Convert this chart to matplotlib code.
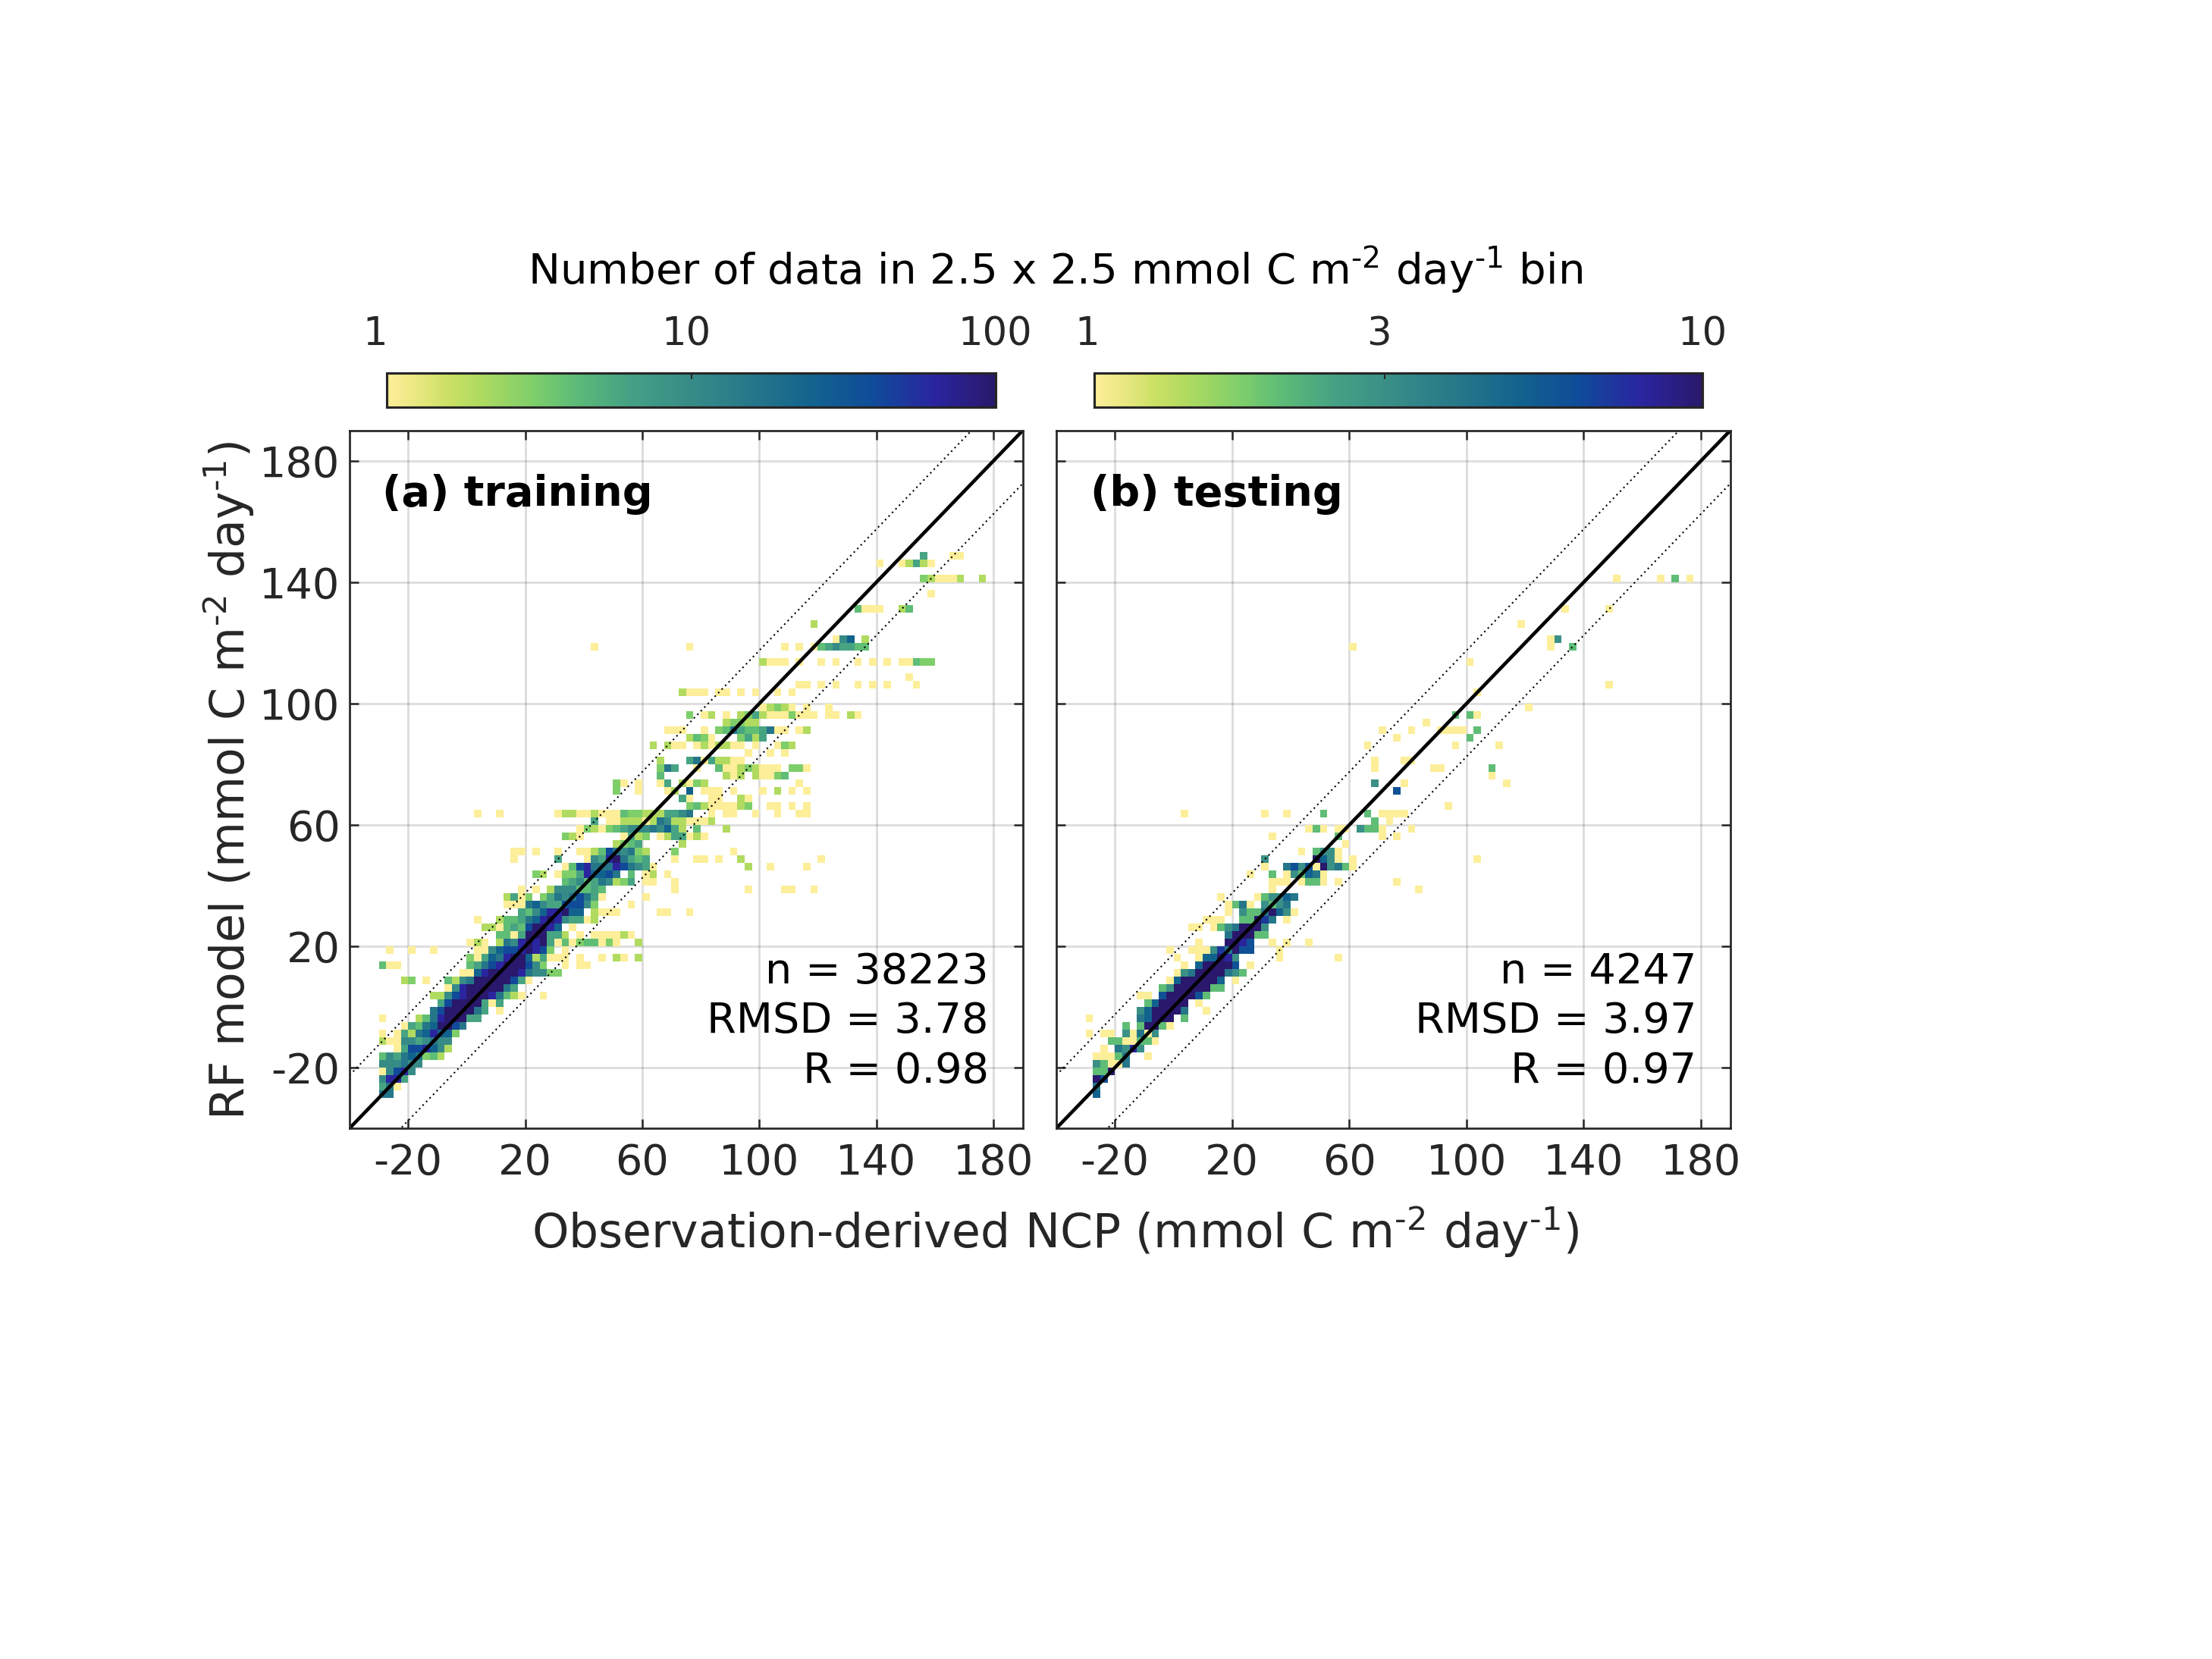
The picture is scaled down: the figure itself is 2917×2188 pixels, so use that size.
import numpy as np
import matplotlib
matplotlib.use("Agg")
import matplotlib.pyplot as plt
from matplotlib.colors import LinearSegmentedColormap, LogNorm
from matplotlib.cm import ScalarMappable
from matplotlib.transforms import ScaledTranslation

W, H = 2917, 2188
DPI = 300
INK = "#262626"

# Bin size and origin of the 2-D histograms (mmol C m-2 day-1)
BIN = 2.5
X_ORIGIN = -30.0
Y_ORIGIN = -40.0
N_COLS = 88
N_ROWS = 88

# Sparse histogram rows: row index -> "first_col:codes ..."
train_counts = {"1": 1, "2": 2, "3": 3, "4": 4, "5": 6, "6": 10, "7": 16,
                "8": 25, "9": 40, "a": 63, "b": 100}
test_counts = {"1": 1, "2": 2, "3": 3, "4": 4, "5": 5, "6": 6, "7": 7,
               "8": 8, "a": 10}

train_rows = {
    4: "0:77", 5: "0:571", 6: "0:6aa5", 7: "0:169a6", 8: "0:666766",
    9: "0:465787342", 10: "2:1599a862", 11: "0:2116656766",
    12: "0:1 2:15278a883", 13: "3:15478bb97", 14: "0:1 5:247abbb55",
    15: "7:79bbbb75 16:1", 16: "8:59bbbb515", 17: "7:2269abbba7421 22:1",
    18: "9:16abbbbb75", 19: "3:23 6:1 9:4267bbbbb951",
    20: "11:118abbbba76633", 21: "0:411 12:4579abbb963 25:1 27:11",
    22: "12:31587abb825111 27:1 30:1 32:21 35:2",
    23: "1:1 4:1 7:1 13:116899aba93 25:1",
    24: "12:121 16:276abab5141344131 35:2",
    25: "16:4415bbb552 27:1 29:111121",
    26: "14:2214549bba8 26:1",
    27: "13:1 16:244578aba65512",
    28: "19:5468aab88 29:2111 38:11 42:1",
    29: "17:1117865599963 34:1",
    30: "17:2513 22:357679751 36:1",
    31: "19:1 21:1 23:26664454 40:1 50:1 55:11 59:1",
    32: "25:4564576235 36:11 40:1",
    33: "21:32 24:1335a8897 34:4 36:12 39:1",
    34: "25:149a777a97651 50:2 53:1 58:1",
    35: "18:1 24:5 28:165ab7545 40:1 43:11 46:1 49:2 60:1",
    36: "18:11 21:1 24:1 27:1124976732 40:3 48:1",
    37: "32:2345 41:2",
    38: "25:321 33:1523 38:1255121",
    39: "27:132134566676852 43:4 47:2",
    40: "29:5 31:112221276221112",
    41: "13:1 16:1 24:1221121114332225567 45:1 47:11 51:1 54:1 57:11",
    42: "42:342111123 53:11 56:1 58:1",
    43: "41:51 45:11 49:21",
    44: "32:3 35:1 39:12 42:8 44:111 48:1 52:1 54:2 56:1 58:1",
    45: "32:31 35:1 38:15 41:2132 57:1",
    46: "38:4 47:212 51:21134",
    47: "38:375 43:1 46:411232111 56:331",
    48: "38:2 42:57152211",
    49: "50:1 53:1 55:1",
    50: "37:2 39:211 43:1212211 51:1 54:132",
    51: "42:2431 49:3525",
    52: "39:111 44:1 46:3475445711 57:12",
    53: "47:23322",
    54: "42:3 44:12 47:1 49:23521113111 61:11 64:21",
    55: "52:12321 58:1 61:1",
    57: "41:2111 46:11 49:1 51:1 54:1 56:1",
    58: "57:11 60:1 62:1 65:1 67:1 69:1 73:1",
    59: "72:1",
    61: "52:2111 57:1 60:1 62:1 65:1 67:1 69:1 71:11433",
    63: "29:1 42:1 55:1 57:1 59:14565544",
    64: "62:168 66:2",
    66: "59:2",
    68: "65:4111 71:24",
    70: "75:1",
    72: "74:321112 82:2",
    74: "68:1 71:12521",
    75: "74:5 78:11",
}

test_rows = {
    4: "1:5", 5: "1:4", 6: "1:a6", 7: "1:22a", 8: "1:32114", 9: "1:11124 8:1",
    10: "2:1 4:4383", 11: "3:2211221", 12: "0:1 2:11 5:31413",
    13: "5:2 7:2aa21", 14: "0:1 7:45aaa 13:2", 15: "7:35aaaa4 16:1",
    16: "8:25aaaa 15:1", 17: "7:11 10:6aaaa62", 18: "10:23aaaaa22",
    19: "11:15aaaaa5 20:1", 20: "12:134aaaa432", 21: "13:1 15:5aaaa6 22:1",
    22: "12:1 15:155a83 26:1 34:1", 23: "11:1 14:111374a66 26:1",
    24: "15:1 19:aa86 25:1 27:1 30:1", 25: "19:4aaa22",
    26: "14:11 17:1234aaa3", 27: "16:111 21:22a74 27:1",
    28: "19:1 21:3224a531", 29: "19:1241 24:3234", 30: "18:1 23:123354",
    31: "25:1 45:1", 32: "25:111 29:1221 34:1 42:1",
    33: "22:1 25:2 27:132541", 34: "24:1 27:46361a3421",
    35: "24:3 31:a531 36:1 53:1", 36: "29:1 31:2331", 37: "35:1",
    38: "25:1 34:2 40:1 42:1", 39: "30:121 34:11 37:3221 44:1",
    40: "39:2 41:1", 41: "13:1 24:1 27:1 32:2 38:2 40:1111", 42: "49:1",
    44: "42:6", 45: "39:3 43:1 57:1", 46: "55:1", 47: "39:1 47:11 55:2",
    48: "39:1 43:11", 50: "38:1 50:1 56:1", 51: "42:1 52:2",
    52: "40:1 44:1 48:1111 53:2", 53: "46:1", 54: "50:2 52:21", 55: "60:1",
    57: "53:1", 58: "71:1", 61: "52:1", 63: "36:1 63:1 66:2", 64: "63:13",
    66: "59:1", 68: "65:1 71:1", 72: "72:1 78:1 80:2 82:1",
}

tick_values = [-20, 20, 60, 100, 140, 180]
tick_labels = ["-20", "20", "60", "100", "140", "180"]
axis_min, axis_max = -40, 190
band_offset = 17.5
cbar_ticks_a = [1, 10, 100]
cbar_labels_a = ["1", "10", "100"]
cbar_ticks_b = [1, 3, 10]
cbar_labels_b = ["1", "3", "10"]
stats_a = ["n = 38223", "RMSD = 3.78", "R = 0.98"]
stats_b = ["n = 4247", "RMSD = 3.97", "R = 0.97"]

# Reversed haline-like colormap
cmap_stops = [
    (0.00, (253, 238, 153)), (0.05, (232, 231, 128)), (0.10, (202, 224, 100)),
    (0.15, (176, 219, 96)), (0.24, (126, 206, 106)), (0.30, (96, 190, 118)),
    (0.40, (68, 160, 132)), (0.50, (55, 139, 135)), (0.60, (38, 119, 137)),
    (0.70, (18, 98, 142)), (0.80, (15, 75, 153)), (0.90, (42, 37, 160)),
    (1.00, (41, 24, 107)),
]
cmap = LinearSegmentedColormap.from_list(
    "haline_like", [(t, tuple(c / 255 for c in rgb)) for t, rgb in cmap_stops], N=256)


def build_grid(rows, counts):
    grid = np.full((N_ROWS, N_COLS), np.nan)
    for k, spec in rows.items():
        for part in spec.split():
            start, codes = part.split(":")
            for offset, code in enumerate(codes):
                grid[k, int(start) + offset] = counts[code]
    return grid


def add_axes_px(fig, x0, y0, x1, y1):
    return fig.add_axes([x0 / W, 1 - y1 / H, (x1 - x0) / W, (y1 - y0) / H])


plt.rcParams["font.family"] = "DejaVu Sans"
plt.rcParams["mathtext.default"] = "regular"
fig = plt.figure(figsize=(W / DPI, H / DPI), dpi=DPI)

x_edges = X_ORIGIN + BIN * np.arange(N_COLS + 1)
y_edges = Y_ORIGIN + BIN * np.arange(N_ROWS + 1)


def panel(box, rows, counts, vmax, title, stats, title_x, stats_x, show_y):
    ax = add_axes_px(fig, *box)
    norm = LogNorm(vmin=1, vmax=vmax)
    ax.pcolormesh(x_edges, y_edges, build_grid(rows, counts), cmap=cmap, norm=norm,
                  shading="flat", antialiased=False, linewidth=0, zorder=2)
    ref = np.array([axis_min, axis_max])
    ax.plot(ref, ref, color="black", lw=1.1, zorder=4)
    ax.plot(ref, ref + band_offset, color="black", lw=0.5, ls=(0, (1, 2.17)), zorder=3)
    ax.plot(ref, ref - band_offset, color="black", lw=0.5, ls=(0, (1, 2.17)), zorder=3)
    ax.set_xlim(axis_min, axis_max)
    ax.set_ylim(axis_min, axis_max)
    ax.set_xticks(tick_values)
    ax.set_xticklabels(tick_labels)
    ax.set_yticks(tick_values)
    ax.set_yticklabels(tick_labels if show_y else [])
    ax.set_axisbelow(True)
    ax.grid(True, color="black", alpha=0.14, lw=0.65)
    ax.tick_params(axis="both", direction="in", length=2.8, width=0.6, color=INK,
                   labelcolor=INK, labelsize=13.4, top=True, right=True)
    ax.tick_params(axis="x", pad=4.6)
    ax.tick_params(axis="y", pad=3.0)
    for sp in ax.spines.values():
        sp.set_linewidth(0.65)
        sp.set_color(INK)
        sp.set_zorder(6)
    fig.text(title_x / W, 1 - 667 / H, title, fontsize=13.4, fontweight="bold",
             color="black", ha="left", va="baseline", zorder=7)
    for line, base in zip(stats, [1297, 1362, 1428]):
        fig.text(stats_x / W, 1 - base / H, line, fontsize=13.4, color="black",
                 ha="right", va="baseline", zorder=7)
    return ax, norm


def colorbar(box, norm, ticks, labels, shifts):
    cax = add_axes_px(fig, *box)
    cb = fig.colorbar(ScalarMappable(norm=norm, cmap=cmap), cax=cax, orientation="horizontal")
    cb.minorticks_off()
    cb.set_ticks(ticks)
    cb.set_ticklabels(labels)
    cax.xaxis.set_ticks_position("top")
    cax.xaxis.set_label_position("top")
    cax.tick_params(axis="x", which="both", direction="in", length=2.0, width=0.5,
                    color=INK, labelcolor=INK, labelsize=12.3, pad=6.2,
                    top=True, bottom=False, labeltop=True, labelbottom=False)
    cb.minorticks_off()
    cb.outline.set_linewidth(0.75)
    cb.outline.set_edgecolor(INK)
    for lab, dx in zip(cax.get_xticklabels(), shifts):
        lab.set_transform(lab.get_transform() + ScaledTranslation(dx / DPI, 0, fig.dpi_scale_trans))
    return cb


_, norm_a = panel((461, 568, 1348.5, 1488), train_rows, train_counts, 100,
                  "(a) training", stats_a, 504.5, 1304, True)
_, norm_b = panel((1393, 568, 2281.5, 1488), test_rows, test_counts, 10,
                  "(b) testing", stats_b, 1437.5, 2237, False)

colorbar((510, 492, 1313, 536.5), norm_a, cbar_ticks_a, cbar_labels_a, [-15, -7, -1])
colorbar((1443, 492, 2245, 536.5), norm_b, cbar_ticks_b, cbar_labels_b, [-9, -7, 0])

unit = r"mmol C m$^{\text{-}2}$ day$^{\text{-}1}$"
fig.text(1391.5 / W, 1 - 375 / H, "Number of data in 2.5 x 2.5 " + unit + " bin",
         fontsize=13.5, color="black", ha="center", va="baseline")
fig.text(1392 / W, 1 - 1646 / H, "Observation-derived NCP (" + unit + ")",
         fontsize=14.8, color=INK, ha="center", va="baseline")
fig.text(323 / W, 1 - 1030 / H, "RF model (" + unit + ")", fontsize=14.8, color=INK,
         rotation=90, ha="center", va="baseline", rotation_mode="anchor")

fig.savefig("out.png", dpi=DPI, facecolor="white")
